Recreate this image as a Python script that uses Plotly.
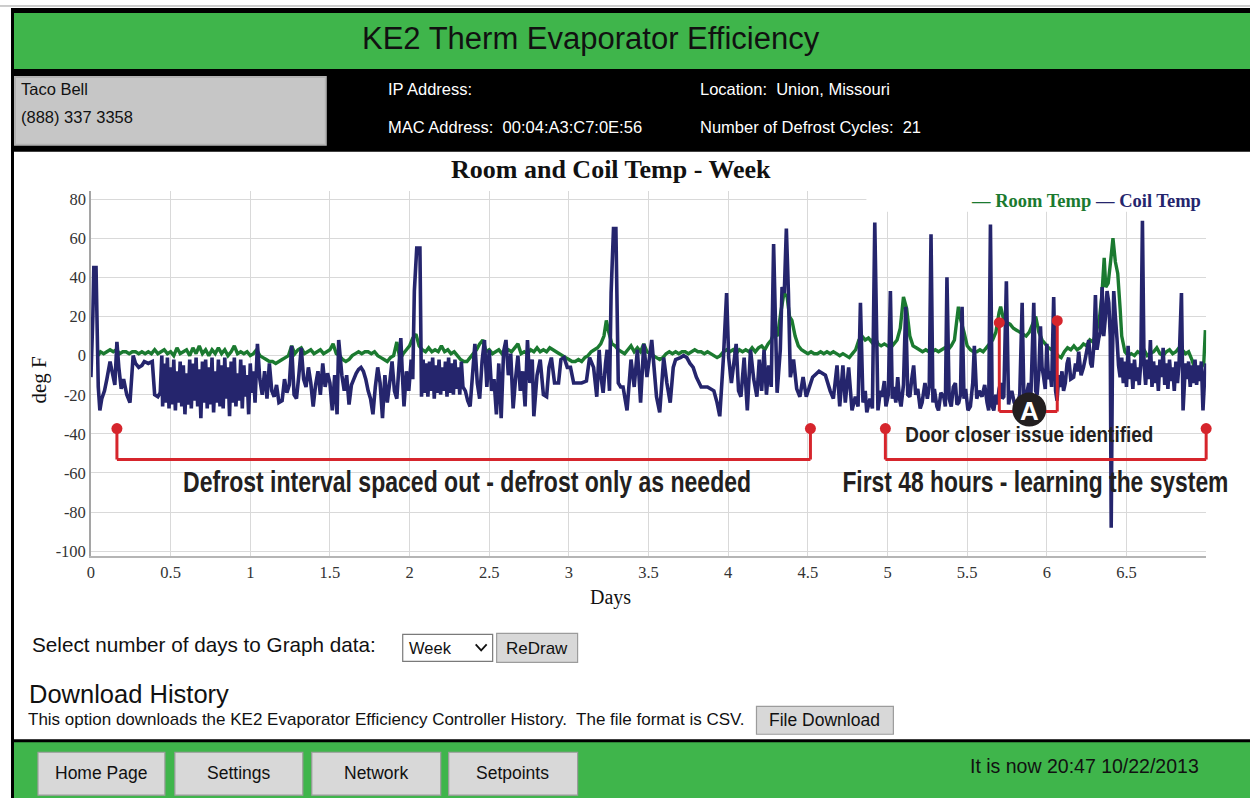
import plotly.graph_objects as go

# ---------------- data ----------------
x_tick_values = [0, 0.5, 1, 1.5, 2, 2.5, 3, 3.5, 4, 4.5, 5, 5.5, 6, 6.5]
x_tick_labels = ["0", "0.5", "1", "1.5", "2", "2.5", "3", "3.5", "4", "4.5", "5", "5.5", "6", "6.5"]
y_tick_values = [-100, -80, -60, -40, -20, 0, 20, 40, 60, 80]
y_tick_labels = ["-100", "-80", "-60", "-40", "-20", "0", "20", "40", "60", "80"]

# Coil temperature readings (day, deg F)
coil_readings = [
    (0.000, -11), (0.012, 20), (0.018, 45), (0.032, 45), (0.040, 10), (0.046, -16), (0.056, -28),
    (0.068, -22), (0.085, -18), (0.10, -12), (0.12, -3), (0.135, -9), (0.150, -15), (0.163, 7),
    (0.175, -6), (0.19, -17), (0.205, -12), (0.225, -20), (0.245, -24), (0.265, 0), (0.28, -4),
    (0.30, -6), (0.32, -5), (0.335, -3), (0.36, -4), (0.385, -3), (0.40, -20), (0.42, -21),
    (0.435, -19), (0.445, 0),
    (0.45, -26), (0.46, -4), (0.47, -24), (0.48, -1), (0.49, -27), (0.50, -6), (0.51, -25), (0.52, -2),
    (0.53, -28), (0.54, -8), (0.55, -24), (0.56, -3), (0.57, -26), (0.58, -5), (0.59, -30), (0.60, -9),
    (0.61, -25), (0.62, -2), (0.63, -27), (0.64, -4), (0.65, -23), (0.66, -1), (0.67, -26), (0.68, -7),
    (0.69, -32), (0.70, -3), (0.71, -24), (0.72, -2), (0.73, -27), (0.74, -6), (0.75, -25), (0.76, -1),
    (0.77, -29), (0.78, -8), (0.79, -24), (0.80, -2), (0.81, -26), (0.82, -5), (0.83, -27), (0.84, -1),
    (0.85, -22), (0.86, -6), (0.87, -31), (0.88, -3), (0.89, -24), (0.90, -1), (0.91, -26), (0.92, -9),
    (0.93, -23), (0.94, -2), (0.95, -27), (0.96, -5), (0.97, -21), (0.98, -10), (0.99, -30), (1.00, -4),
    (1.01, -19), (1.02, -8), (1.03, -24), (1.045, 6),
    (1.06, -12), (1.075, -20), (1.09, -8), (1.105, -22), (1.12, -4), (1.135, -18), (1.15, -21),
    (1.165, -15), (1.18, -24), (1.20, -23), (1.215, -12), (1.23, -19), (1.245, -15), (1.26, 5),
    (1.275, -20), (1.29, -22), (1.305, -10), (1.32, 4), (1.335, -12), (1.35, -16), (1.365, -6),
    (1.38, -14), (1.395, -26), (1.41, -15), (1.425, -8), (1.44, -20), (1.455, -4), (1.47, -16),
    (1.485, -9), (1.50, -14), (1.515, -28), (1.53, -10), (1.545, -30), (1.555, 8), (1.575, -10),
    (1.59, -18), (1.605, -10), (1.62, -25), (1.635, -15), (1.65, -12), (1.665, -9), (1.68, -7),
    (1.695, -6), (1.71, -8), (1.725, -12), (1.74, -18), (1.755, -22), (1.77, -30), (1.785, -16),
    (1.80, -6), (1.815, -14), (1.83, -32), (1.845, -10), (1.86, -24), (1.875, -14), (1.89, -3),
    (1.905, -18), (1.92, -22), (1.945, 9), (1.955, -10), (1.965, -26), (1.98, -8), (1.995, -18),
    (2.01, -2), (2.02, -12), (2.03, 33), (2.045, 55), (2.065, 55), (2.075, -21),
    (2.085, -2), (2.095, -19), (2.105, -4), (2.115, -21), (2.125, -3), (2.135, -18), (2.145, -1),
    (2.155, -22), (2.165, -5), (2.175, -19), (2.185, -2), (2.195, -20), (2.205, -6), (2.215, -18),
    (2.225, -3), (2.235, -21), (2.245, -1), (2.255, -19), (2.265, -4), (2.275, -20), (2.285, -2),
    (2.295, -17), (2.305, -6), (2.315, -20), (2.325, -3), (2.335, -16), (2.35, -18), (2.365, -23),
    (2.38, -26),
    (2.395, -10), (2.41, 6), (2.425, -14), (2.44, -22), (2.455, -3), (2.47, 8), (2.485, -16),
    (2.50, 3), (2.515, -18), (2.53, -12), (2.545, -30), (2.56, -4), (2.575, -32), (2.59, 2),
    (2.605, 8), (2.62, -10), (2.635, 1), (2.65, -27), (2.665, -12), (2.68, 0), (2.695, -18),
    (2.71, -8), (2.725, -26), (2.74, 8), (2.755, -14), (2.77, -2), (2.78, -31), (2.80, -10),
    (2.82, -2), (2.84, -20), (2.86, -21), (2.875, -6), (2.89, -1), (2.91, -14), (2.935, -14),
    (2.95, -2), (2.97, -1), (2.99, -6), (3.01, -6), (3.03, -14), (3.05, -14), (3.08, -14),
    (3.11, -13), (3.13, -1), (3.155, -6), (3.175, -21), (3.19, 3), (3.20, -10), (3.215, -19),
    (3.23, -4), (3.24, 3), (3.255, -18), (3.265, 32), (3.28, 65), (3.295, 65), (3.31, -14),
    (3.325, -16), (3.34, -16), (3.365, -28), (3.39, -2), (3.41, -16), (3.43, 3), (3.45, -24),
    (3.47, 6), (3.49, -11), (3.52, 8), (3.55, -21), (3.57, -29), (3.595, -1), (3.615, -14),
    (3.636, -24), (3.655, -6), (3.67, -2), (3.70, -1), (3.72, 0), (3.74, -1), (3.76, -4),
    (3.78, -6), (3.80, -11), (3.83, -16), (3.87, -16), (3.91, -18), (3.93, -24), (3.947, -31),
    (3.97, -1), (3.99, 32), (4.003, -1), (4.02, -14), (4.035, -4), (4.05, 6), (4.065, -18),
    (4.08, -21), (4.10, -1), (4.12, -28), (4.14, 3), (4.16, -12), (4.18, -21), (4.195, -2),
    (4.21, -18), (4.225, 3), (4.24, -20), (4.255, -5), (4.27, -16), (4.285, 57), (4.307, -19),
    (4.327, 3), (4.338, 35), (4.352, 32), (4.365, 65), (4.378, 32), (4.39, -11),
    (4.41, -2), (4.43, -17), (4.45, -21), (4.47, -11), (4.49, -21), (4.51, -16), (4.53, -11),
    (4.57, -8), (4.61, -10), (4.64, -18), (4.66, -22), (4.683, -5), (4.70, -26), (4.72, -5),
    (4.735, -24), (4.756, -6), (4.777, -28), (4.798, -21), (4.815, -26), (4.83, 27), (4.846, -24),
    (4.86, -18), (4.87, -29), (4.89, -22), (4.905, -27), (4.92, 68), (4.94, -28), (4.955, -18),
    (4.965, -21), (4.98, -13), (4.99, -26), (5.005, -20), (5.018, 33), (5.03, -22), (5.04, -16),
    (5.052, -24), (5.064, -11), (5.075, -22), (5.085, -26), (5.10, -15), (5.114, 25), (5.127, -20),
    (5.14, -21), (5.152, -12), (5.164, -5), (5.177, -20), (5.19, -17), (5.205, -27), (5.217, -24),
    (5.235, -14), (5.25, -22), (5.262, -16), (5.273, 62), (5.285, -24), (5.294, -17), (5.31, -26),
    (5.32, -28), (5.335, -19), (5.353, -21), (5.363, -26), (5.373, 40), (5.387, -22), (5.40, -26),
    (5.413, -16), (5.426, -14), (5.436, -25), (5.447, -24), (5.458, -20), (5.468, 25), (5.48, -22),
    (5.49, -17), (5.505, -28), (5.52, -26), (5.535, -14), (5.545, 5), (5.56, -22),
    (5.575, -18), (5.593, -21), (5.61, -15), (5.625, -24), (5.635, -28), (5.646, 67), (5.657, -26),
    (5.667, -28), (5.68, -20), (5.69, -25), (5.70, -17), (5.71, -14), (5.72, -22), (5.73, -21),
    (5.746, 38), (5.76, -25), (5.77, -20), (5.78, -18), (5.795, -24), (5.813, -26), (5.83, -20),
    (5.845, 27), (5.856, -22), (5.866, -23), (5.877, -18), (5.887, -14), (5.90, -20), (5.918, 27),
    (5.93, -18), (5.939, -20), (5.95, -8), (5.96, 15), (5.97, -6), (5.98, -11), (5.99, -17),
    (6.00, 6), (6.01, -12), (6.02, -8), (6.03, -16), (6.043, 30), (6.055, -18), (6.064, -23),
    (6.075, -10), (6.085, -16), (6.095, -8), (6.105, -18), (6.116, -14), (6.127, -4), (6.137, -1),
    (6.15, -12), (6.168, -11), (6.18, -4), (6.19, -8), (6.20, 2), (6.215, -10), (6.23, -6),
    (6.245, 0), (6.263, 8), (6.275, -4), (6.284, -6), (6.295, 5), (6.305, 31), (6.315, 3),
    (6.326, 9), (6.336, 12), (6.347, 35), (6.357, 10), (6.368, 20), (6.378, 33), (6.389, 27),
    (6.398, 10), (6.404, -88), (6.412, 0), (6.42, 33), (6.43, 20), (6.44, 9), (6.45, -5),
    (6.46, -11), (6.47, -1), (6.48, -14), (6.49, -3), (6.50, -16), (6.51, 5), (6.52, -12),
    (6.53, -4), (6.54, -17), (6.55, -2), (6.56, -13), (6.57, -6), (6.58, -15), (6.59, -3),
    (6.60, 69), (6.61, -4), (6.62, -15), (6.63, -2), (6.64, -12), (6.65, 8), (6.66, -16),
    (6.67, -3), (6.68, -14), (6.69, -5), (6.70, -18), (6.71, -2), (6.72, -11), (6.73, 4),
    (6.74, -15), (6.75, -4), (6.76, -17), (6.77, -2), (6.78, -13), (6.79, -6), (6.80, -18),
    (6.81, -3), (6.82, -14), (6.83, -4), (6.845, 32), (6.855, -28), (6.87, -4), (6.88, -12),
    (6.89, -3), (6.90, -16), (6.91, -5), (6.92, -14), (6.93, -2), (6.94, -15), (6.95, -5),
    (6.96, -13), (6.97, -3), (6.98, -28), (6.99, -12), (7.00, -4),
]

# Room temperature readings (day, deg F)
room_readings = [
    (0.045, 0), (0.06, 2), (0.08, 1), (0.10, 2), (0.12, 3), (0.14, 2), (0.16, 3), (0.18, 1), (0.20, 2),
    (0.22, 2), (0.24, 1), (0.26, 2), (0.28, 2), (0.30, 1), (0.32, 2), (0.34, 1), (0.36, 2), (0.38, 1),
    (0.40, 3), (0.42, 1), (0.44, 2), (0.46, 3), (0.48, 1), (0.50, 2), (0.52, 0), (0.54, 4), (0.56, 1),
    (0.58, 2), (0.60, 3), (0.62, 0), (0.64, 4), (0.66, 1), (0.68, 5), (0.70, 1), (0.72, 3), (0.74, 0),
    (0.76, 3), (0.78, 1), (0.80, 4), (0.82, 1), (0.84, 3), (0.86, 0), (0.88, 2), (0.90, 5), (0.92, 1),
    (0.94, 2), (0.96, 1), (0.98, 2), (1.00, 0), (1.02, 1), (1.04, 3), (1.06, 0), (1.08, -1), (1.10, -2),
    (1.12, -3), (1.14, -3), (1.16, -4), (1.18, -3), (1.20, -2), (1.22, -1), (1.24, 0), (1.26, 5),
    (1.28, 1), (1.30, 3), (1.32, 4), (1.34, 1), (1.36, 2), (1.38, 3), (1.40, 1), (1.42, 2), (1.44, 3),
    (1.46, 1), (1.48, 2), (1.50, 3), (1.52, 6), (1.54, 1), (1.56, 0), (1.58, -2), (1.60, -3), (1.62, -2),
    (1.64, 0), (1.66, 1), (1.68, 2), (1.70, 1), (1.72, 2), (1.74, 2), (1.76, 1), (1.78, 2), (1.80, 0),
    (1.82, -1), (1.84, -2), (1.86, -3), (1.88, -1), (1.90, 0), (1.92, 7), (1.94, -2), (1.96, 1),
    (1.98, 3), (2.00, 5), (2.02, 9), (2.04, 11), (2.06, 5), (2.08, 3), (2.10, 2), (2.12, 4), (2.14, 2),
    (2.16, 3), (2.18, 2), (2.20, 5), (2.22, 2), (2.24, 3), (2.26, 1), (2.28, 2), (2.30, 0), (2.32, -2),
    (2.34, -3), (2.36, -3), (2.38, -1), (2.40, 1), (2.42, 3), (2.44, 6), (2.46, 8), (2.48, 2), (2.50, 3),
    (2.52, 1), (2.54, 2), (2.56, 3), (2.58, 1), (2.60, 2), (2.62, 3), (2.64, 2), (2.66, 4), (2.68, 6),
    (2.70, 1), (2.72, 2), (2.74, 1), (2.76, 3), (2.78, 2), (2.80, 4), (2.82, 2), (2.84, 3), (2.86, 2),
    (2.88, 4), (2.90, 3), (2.92, 2), (2.94, 1), (2.96, 0), (2.98, -1), (3.00, -2), (3.02, -3),
    (3.04, -3), (3.06, -2), (3.08, -3), (3.10, -1), (3.12, 0), (3.14, 2), (3.16, 3), (3.18, 4),
    (3.20, 6), (3.22, 10), (3.235, 18), (3.25, 12), (3.27, 6), (3.29, 5), (3.31, 3), (3.33, 2),
    (3.35, 1), (3.37, 3), (3.39, 5), (3.41, 2), (3.43, 4), (3.45, 2), (3.47, 6), (3.49, 2), (3.51, 1),
    (3.53, 0), (3.55, -1), (3.57, -2), (3.59, -1), (3.61, 1), (3.63, 2), (3.65, 1), (3.67, 2),
    (3.69, 1), (3.71, 2), (3.73, 2), (3.75, 1), (3.77, 2), (3.79, 3), (3.81, 2), (3.83, 2), (3.85, 1),
    (3.87, 2), (3.89, 1), (3.91, 0), (3.93, -1), (3.95, 0), (3.97, 2), (3.99, 3), (4.01, 2), (4.03, 3),
    (4.05, 1), (4.07, 3), (4.09, 2), (4.11, 3), (4.13, 2), (4.15, 4), (4.17, 2), (4.19, 4), (4.21, 5),
    (4.23, 3), (4.25, 6), (4.27, 8), (4.29, 12), (4.31, 10), (4.33, 22), (4.35, 32), (4.37, 30),
    (4.385, 20), (4.40, 18), (4.42, 10), (4.44, 5), (4.46, 3), (4.48, 2), (4.50, 1), (4.52, 2),
    (4.54, 1), (4.56, 1), (4.58, 2), (4.60, 1), (4.62, 2), (4.64, 1), (4.66, 2), (4.68, 1), (4.70, 0),
    (4.72, 1), (4.74, 0), (4.76, -1), (4.78, 1), (4.80, 3), (4.82, 8), (4.84, 10), (4.86, 8),
    (4.88, 9), (4.90, 7), (4.92, 10), (4.94, 6), (4.96, 5), (4.98, 6), (5.00, 5), (5.02, 4), (5.04, 6),
    (5.06, 8), (5.08, 14), (5.10, 30), (5.12, 24), (5.14, 10), (5.16, 5), (5.18, 4), (5.20, 3),
    (5.22, 2), (5.24, 3), (5.26, 2), (5.28, 2), (5.30, 3), (5.32, 2), (5.34, 3), (5.36, 4), (5.38, 3),
    (5.40, 5), (5.42, 8), (5.445, 25), (5.46, 18), (5.48, 12), (5.50, 5), (5.52, 3), (5.54, 2),
    (5.56, 2), (5.58, 3), (5.60, 2), (5.62, 4), (5.64, 6), (5.66, 8), (5.68, 12), (5.70, 22),
    (5.71, 25), (5.73, 18), (5.75, 17), (5.77, 16), (5.79, 14), (5.81, 13), (5.83, 12), (5.85, 11),
    (5.87, 10), (5.89, 12), (5.91, 16), (5.93, 20), (5.95, 12), (5.97, 8), (5.99, 6), (6.01, 4),
    (6.03, 3), (6.05, 2), (6.07, 0), (6.09, -1), (6.11, 2), (6.13, 4), (6.15, 3), (6.17, 5), (6.19, 3),
    (6.21, 4), (6.23, 6), (6.25, 5), (6.27, 8), (6.29, 7), (6.31, 12), (6.33, 19), (6.345, 30),
    (6.36, 50), (6.37, 35), (6.385, 37), (6.40, 48), (6.415, 60), (6.43, 48), (6.445, 42), (6.46, 24),
    (6.47, 10), (6.49, 2), (6.51, 0), (6.53, 1), (6.55, 0), (6.57, 2), (6.59, 1), (6.61, 3), (6.63, 0),
    (6.65, 1), (6.67, 2), (6.69, 4), (6.71, 1), (6.73, 0), (6.75, 2), (6.77, 3), (6.79, 1), (6.81, 2),
    (6.83, 4), (6.85, 3), (6.87, 1), (6.89, 2), (6.91, -2), (6.93, -7), (6.95, -7), (6.97, -6),
    (6.985, -4), (6.995, 13),
]

coil_days = [d for d, _ in coil_readings]
coil_temp = [t for _, t in coil_readings]
room_days = [d for d, _ in room_readings]
room_temp = [t for _, t in room_readings]

# ---------------- page geometry helpers ----------------
W, H = 1250, 798
# small correction measured from earlier renders (page drawn slightly offset / squeezed)
def X(p):
    return ((p - 3.0) / 0.9975) / W
def Y(p):
    return 1 - (p / 0.9935) / H

GREEN_BAR = "#3fb54b"
ROOM_C = "#1b7a30"
COIL_C = "#25256d"
RED = "#d6252c"
INK = "#231f20"
SANS = "Liberation Sans, Arial, sans-serif"
SERIF = "Liberation Serif, Times New Roman, serif"
CALLOUT = "Liberation Sans, Arial, sans-serif"

fig = go.Figure()
fig.add_trace(go.Scatter(x=room_days, y=room_temp, mode="lines", name="Room Temp",
                         line=dict(color=ROOM_C, width=3.4, simplify=False), showlegend=False))
fig.add_trace(go.Scatter(x=coil_days, y=coil_temp, mode="lines", name="Coil Temp",
                         line=dict(color=COIL_C, width=3.6, simplify=False), showlegend=False))

shapes = []
def rect(x0, y0, x1, y1, fill, line=None, lw=0, layer="below"):
    shapes.append(dict(type="rect", xref="paper", yref="paper", x0=X(x0), x1=X(x1), y0=Y(y1), y1=Y(y0),
                       fillcolor=fill, line=dict(color=line or fill, width=lw), layer=layer))
def seg(x0, y0, x1, y1, color, w, layer="above"):
    shapes.append(dict(type="line", xref="paper", yref="paper", x0=X(x0), x1=X(x1), y0=Y(y0), y1=Y(y1),
                       line=dict(color=color, width=w), layer=layer))
def dot(cx, cy, r, color, layer="above"):
    shapes.append(dict(type="circle", xref="paper", yref="paper", x0=X(cx - r), x1=X(cx + r),
                       y0=Y(cy + r), y1=Y(cy - r), fillcolor=color, line=dict(color=color, width=0), layer=layer))

# page frame
rect(-10, -10, 1270, 810, "white")
seg(-10, 5, 1270, 5, "#9a9a9a", 1, layer="below")
rect(10, 7, 1270, 810, "black")
rect(13, 12, 1270, 68, GREEN_BAR)
rect(14, 76, 325, 144, "#c6c6c6", "#b2b2b2", 2)
rect(13, 151, 1270, 739, "white")
rect(13, 742, 1270, 810, GREEN_BAR)

# buttons
def button(x0, y0, x1, y1):
    rect(x0, y0, x1, y1, "#d8d8d8", "#9c9c9c", 1.2)
for bx0, bx1 in [(37, 164), (174, 302), (311, 440), (448, 577)]:
    button(bx0, 752, bx1, 795)
rect(402, 634, 492, 661, "white", "#7a7a7a", 1.2)
button(496, 633, 577, 662)
button(756, 706, 893, 734)
shapes.append(dict(type="path", xref="paper", yref="paper",
                   path=f"M {X(475)},{Y(644)} L {X(480.5)},{Y(650)} L {X(486)},{Y(644)}",
                   line=dict(color="#111", width=1.8)))

# legend backing box (covers gridlines)
rect(866, 189, 1207, 211, "white", layer="above")

# red brackets
for (a, b) in [(116, 810), (885, 1206)]:
    seg(a, 428, a, 459, RED, 3)
    seg(b, 428, b, 459, RED, 3)
    seg(a, 459, b, 459, RED, 3)
    dot(a, 428, 5.5, RED)
    dot(b, 428, 5.5, RED)
seg(999, 322, 999, 411, RED, 3)
seg(1057, 320, 1057, 411, RED, 3)
seg(999, 411, 1057, 411, RED, 3)
dot(999, 322, 5.5, RED)
dot(1057, 320, 5.5, RED)
dot(1029, 409, 17, INK)

ann = []
def text(x, y, s, size, color="#111", family=SANS, anchor="left", bold=False, angle=0):
    ann.append(dict(xref="paper", yref="paper", x=X(x), y=Y(y), text=(f"<b>{s}</b>" if bold else s),
                    showarrow=False, xanchor=anchor, yanchor="middle", textangle=angle,
                    font=dict(size=size, color=color, family=family)))

text(590, 38, "KE2 Therm Evaporator Efficiency", 31, "#111", anchor="center")
text(18, 88, "Taco Bell", 16.5, "#111")
text(18, 116, "(888) 337 3358", 16.5, "#111")
text(385, 88, "IP Address:", 16.5, "white")
text(385, 126, "MAC Address:  00:04:A3:C7:0E:56", 16.5, "white")
text(697, 88, "Location:  Union, Missouri", 16.5, "white")
text(697, 126, "Number of Defrost Cycles:  21", 16.5, "white")

text(610, 169, "Room and Coil Temp - Week", 26, "#111", SERIF, "center", bold=True)
text(1093, 200, "— Room Temp", 18.5, ROOM_C, SERIF, "right", bold=True)
text(1203, 200, "— Coil Temp", 18.5, COIL_C, SERIF, "right", bold=True)
text(610, 597, "Days", 20, "#111", SERIF, "center")
text(38, 379, "deg F", 21, "#111", SERIF, "center", angle=-90)

text(466, 481, "Defrost interval spaced out - defrost only as needed", 30, INK, CALLOUT, "center", bold=True)
text(1035, 481, "First 48 hours - learning the system", 30, INK, CALLOUT, "center", bold=True)
text(1029, 434, "Door closer issue identified", 22, INK, CALLOUT, "center", bold=True)
text(1029, 410, "A", 26, "white", CALLOUT, "center", bold=True)

text(29, 644, "Select number of days to Graph data:", 20.7, "#111")
text(406, 648, "Week", 16.5, "#111")
text(536, 648, "ReDraw", 17, "#111", anchor="center")
text(26, 694, "Download History", 25.5, "#111")
text(25, 719, "This option downloads the KE2 Evaporator Efficiency Controller History.  The file format is CSV.", 17, "#111")
text(824, 720, "File Download", 17.5, "#111", anchor="center")
for label, cx in [("Home Page", 100), ("Settings", 238), ("Network", 375), ("Setpoints", 512)]:
    text(cx, 773, label, 17.5, "#111", anchor="center")
text(1201, 766, "It is now 20:47 10/22/2013", 19.5, "#111", anchor="right")

fig.update_layout(
    width=W, height=H, margin=dict(l=0, r=0, t=0, b=0),
    paper_bgcolor="white", plot_bgcolor="rgba(0,0,0,0)",
    shapes=shapes, annotations=ann, showlegend=False,
    font=dict(family=SERIF, color="#333"),
    xaxis=dict(domain=[X(90), X(1206)], range=[0, 7], tickvals=x_tick_values, ticktext=x_tick_labels,
               showgrid=True, gridcolor="#d9d9d9", gridwidth=1, zeroline=False,
               showline=True, linecolor="#b5b5b5", linewidth=2, ticks="",
               tickfont=dict(family=SERIF, size=16.5, color="#333"), fixedrange=True),
    yaxis=dict(domain=[Y(556), Y(190)], range=[-102.66, 84.27], tickvals=y_tick_values,
               ticktext=y_tick_labels,
               showgrid=True, gridcolor="#d9d9d9", gridwidth=1, zeroline=False,
               showline=True, linecolor="#a5a5a5", linewidth=1.5, ticks="",
               tickfont=dict(family=SERIF, size=16.5, color="#333"), fixedrange=True),
)

# page body exactly the figure's size; condense the bold callouts to the reference's widths
post_js = """
var gd = document.getElementById('{plot_id}');
[document.documentElement, document.body].forEach(function (el) {
  el.style.margin = '0'; el.style.padding = '0'; el.style.overflow = 'hidden';
  el.style.width = '1250px'; el.style.height = '798px';
});
var wrap = gd.parentElement;
wrap.style.margin = '0'; wrap.style.width = '1250px'; wrap.style.height = '798px';
wrap.style.overflow = 'hidden'; wrap.style.lineHeight = '0';
gd.style.display = 'block';
var widths = {
  'Defrost interval spaced out - defrost only as needed': 568,
  'First 48 hours - learning the system': 386,
  'Door closer issue identified': 248
};
gd.querySelectorAll('text.annotation-text').forEach(function (t) {
  var w = widths[t.textContent];
  if (w) { t.setAttribute('textLength', w); t.setAttribute('lengthAdjust', 'spacingAndGlyphs'); }
});
"""
fig.write_html("out.html", post_script=post_js, config={"displayModeBar": False})
